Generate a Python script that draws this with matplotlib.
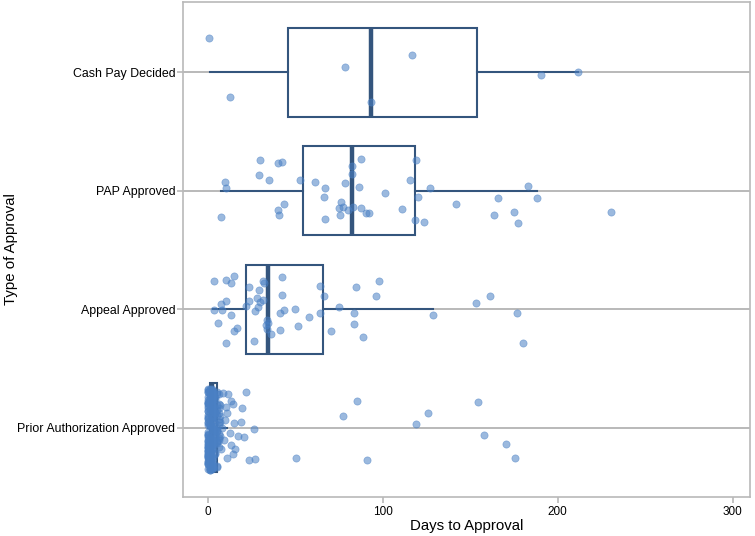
import matplotlib
matplotlib.use("Agg")
import matplotlib.pyplot as plt

# categories, top to bottom
categories = ["Cash Pay Decided", "PAP Approved", "Appeal Approved",
              "Prior Authorization Approved"]

# box summaries (days)
box_q1 = [45.6, 54.1, 21.6, 1.1]
box_med = [93.3, 82.4, 34.2, 2.0]
box_q3 = [153.6, 118.3, 65.7, 5.2]
box_lo = [1.0, 7.6, 3.0, 0.0]
box_hi = [211.8, 187.9, 128.6, 11.0]

# individual observations (days) and their vertical jitter
cash_days = [0.6, 12.6, 78.4, 93.3, 116.8, 190.6, 211.8]
cash_jit = [-0.288, 0.212, -0.042, 0.254, -0.144, 0.025, 0.0]

pap_days = [29.8, 40.2, 42.5, 29.0, 35.1, 9.6, 10.5, 7.6, 40.2, 40.8,
            43.7, 52.5, 61.2, 67.1, 66.6, 67.1, 76.0, 74.8, 77.1, 80.3,
            75.7, 78.6, 82.6, 82.4, 82.8, 87.6, 86.6, 87.6, 90.4, 91.8,
            101.1, 110.9, 115.5, 118.9, 120.2, 118.5, 123.5, 127.1, 141.6, 182.8,
            165.6, 187.9, 163.3, 175.2, 177.3, 230.3]
pap_jit = [-0.260, -0.237, -0.243, -0.133, -0.093, -0.074, -0.023, 0.223, 0.164, 0.201,
           0.113, -0.093, -0.074, -0.025, 0.057, 0.235, 0.093, 0.147, 0.138, 0.164,
           0.206, -0.068, -0.212, -0.138, 0.138, -0.271, -0.031, 0.147, 0.189, 0.189,
           0.017, 0.155, -0.091, -0.263, 0.057, 0.248, 0.263, -0.025, 0.108, -0.036,
           0.062, 0.065, 0.201, 0.178, 0.274, 0.180]

appeal_days = [3.4, 10.3, 13.2, 14.7, 23.3, 31.3, 32.2, 42.2, 29.2, 27.9,
               31.5, 29.8, 23.6, 21.9, 28.4, 10.3, 7.3, 3.6, 7.8, 13.3,
               5.9, 16.4, 14.9, 10.1, 26.2, 26.7, 33.8, 34.5, 33.0, 33.9,
               36.1, 41.0, 42.5, 41.4, 43.7, 50.0, 51.5, 57.8, 64.1, 66.6,
               64.1, 75.2, 70.4, 84.5, 83.7, 83.4, 88.9, 97.7, 96.2, 128.6,
               153.0, 161.0, 176.9, 179.9]
appeal_jit = [-0.237, -0.243, -0.218, -0.280, -0.189, -0.240, -0.218, -0.269, -0.158, -0.091,
              -0.076, -0.057, -0.068, -0.023, -0.019, -0.070, -0.042, 0.006, 0.008, 0.051,
              0.113, 0.155, 0.184, 0.288, 0.269, 0.014, 0.091, 0.119, 0.136, 0.164,
              0.206, 0.172, -0.116, 0.028, 0.006, -0.003, 0.138, 0.070, -0.197, -0.108,
              0.028, -0.017, 0.186, -0.189, 0.036, 0.127, 0.235, -0.235, -0.113, 0.048,
              -0.051, -0.110, 0.034, 0.286]

# prior authorization: dense column near zero, then the spread-out ones
prior_cluster_days = [0, 1, 0, 2, 1, 3, 0, 4, 2, 1,
                      0, 5, 1, 0, 3, 2, 0, 1, 6, 0,
                      2, 0, 1, 3, 0, 4, 1, 0, 2, 5,
                      0, 1, 2, 0, 3, 1, 0, 7, 2, 0,
                      1, 0, 4, 2, 0, 1, 3, 0, 2, 6,
                      0, 1, 0, 2, 5, 1, 0, 3, 0, 1,
                      2, 0, 4, 1, 0, 2, 0, 3, 1, 0,
                      5, 0, 1, 2, 0, 6, 1, 0, 3, 2,
                      0, 1, 4, 0, 2, 1, 0, 3, 0, 8,
                      1, 0, 2, 0, 5, 1, 3, 0, 2, 1,
                      0, 4, 1, 0, 2, 0, 7, 1, 0, 3,
                      2, 0, 1, 5, 0, 2, 1, 0, 4, 0,
                      3, 1, 6, 2, 0, 4, 1, 5, 3, 2,
                      1, 4, 0, 6, 2, 3, 5, 1, 7, 0,
                      4, 2, 3, 0, 5, 1, 6, 2, 4, 3,
                      2, 5, 1, 3, 6, 0, 4, 2, 5, 1,
                      6, 3, 0, 4, 1, 2, 7, 3, 5, 4,
                      1, 6, 3, 2, 4, 5, 0, 3, 6, 2]
prior_cluster_jit = [-0.32, -0.27, -0.21, -0.15, -0.30, -0.08, -0.02, 0.05, 0.12, 0.19,
                     0.26, 0.33, -0.25, -0.18, 0.00, 0.08, 0.15, 0.22, -0.12, 0.35,
                     -0.29, -0.05, 0.11, 0.29, -0.22, 0.02, 0.17, 0.31, -0.10, -0.28,
                     0.06, -0.16, 0.24, -0.33, 0.13, -0.03, 0.20, -0.19, 0.30, -0.07,
                     0.27, 0.10, -0.26, 0.04, -0.14, 0.34, -0.24, 0.16, -0.31, 0.09,
                     -0.20, 0.21, -0.09, 0.32, 0.01, -0.13, 0.25, -0.23, 0.14, -0.01,
                     0.18, -0.30, 0.07, 0.28, -0.17, -0.27, 0.23, -0.06, 0.36, -0.11,
                     0.03, -0.21, 0.15, -0.15, 0.19, -0.02, -0.32, 0.11, 0.26, -0.24,
                     -0.04, 0.30, -0.12, 0.12, 0.33, -0.28, 0.06, -0.18, 0.22, 0.00,
                     0.09, -0.26, -0.09, 0.17, -0.30, 0.27, 0.02, -0.08, -0.20, 0.35,
                     0.20, -0.16, 0.13, -0.23, 0.31, 0.05, -0.05, -0.29, 0.24, 0.10,
                     -0.33, 0.16, 0.34, -0.11, 0.08, -0.19, -0.03, 0.29, 0.21, -0.14,
                     -0.31, -0.23, -0.17, -0.06, 0.04, 0.14, 0.25, 0.32, -0.27, 0.18,
                     0.09, -0.12, 0.28, -0.20, 0.35, -0.01, 0.12, -0.25, 0.07, -0.30,
                     0.22, -0.09, 0.02, 0.30, -0.15, -0.33, 0.16, 0.26, -0.04, 0.33,
                     -0.18, 0.11, 0.20, -0.28, -0.07, 0.24, 0.01, -0.22, 0.13, 0.36,
                     0.05, -0.26, 0.31, -0.13, -0.02, 0.19, -0.10, 0.34, -0.19, 0.08,
                     0.27, -0.05, -0.29, 0.15, -0.24, 0.03, 0.21, -0.16, 0.10, -0.32]
prior_spread_days = [21.6, 14.5, 19.3, 10.9, 15.1, 19.1, 9.7, 26.2, 12.8, 17.3,
                     20.4, 13.0, 15.6, 14.1, 10.9, 23.5, 26.9, 11.4, 13.0, 10.3,
                     9.0, 7.6, 8.8, 6.5,
                     50.5, 77.1, 85.1, 91.2, 119.1, 125.8, 154.5, 157.8, 170.4, 175.6]
prior_spread_jit = [-0.297, -0.203, -0.169, -0.125, -0.040, -0.048, -0.062, 0.011, 0.042, 0.074,
                    0.076, 0.147, 0.178, 0.223, 0.257, 0.274, 0.263, -0.280, -0.226, -0.175,
                    0.108, 0.178, -0.294, -0.286,
                    0.257, -0.096, -0.226, 0.277, -0.028, -0.125, -0.220, 0.062, 0.142, 0.252]

x_ticks = [0, 100, 200, 300]

plt.rcParams['font.family'] = ['Liberation Sans', 'DejaVu Sans']

BOX_COLOR = '#34557d'
DOT_COLOR = '#4a80c4'
GRID_COLOR = '#b9b9b9'

fig = plt.figure(figsize=(7.55, 5.36), dpi=100)
ax = fig.add_axes([0.2424, 0.0728, 0.751, 0.9235])

# horizontal reference lines at each category
for i in range(len(categories)):
    ax.axhline(i, color=GRID_COLOR, linewidth=1.4, zorder=0)

stats = []
for i, name in enumerate(categories):
    stats.append({'label': name, 'q1': box_q1[i], 'med': box_med[i], 'q3': box_q3[i],
                  'whislo': box_lo[i], 'whishi': box_hi[i], 'fliers': []})

ax.bxp(stats, positions=range(len(categories)), widths=0.75,
       orientation='horizontal', patch_artist=True, showcaps=False,
       showfliers=False,
       boxprops=dict(facecolor='white', edgecolor=BOX_COLOR, linewidth=1.5),
       whiskerprops=dict(color=BOX_COLOR, linewidth=1.5),
       medianprops=dict(color=BOX_COLOR, linewidth=3.2),
       zorder=2)

groups = [
    (cash_days, cash_jit),
    (pap_days, pap_jit),
    (appeal_days, appeal_jit),
    (prior_cluster_days + prior_spread_days, prior_cluster_jit + prior_spread_jit),
]
for i, (days, jit) in enumerate(groups):
    ys = [i + j for j in jit]
    ax.scatter(days, ys, s=27, color=DOT_COLOR, alpha=0.55,
               edgecolors=DOT_COLOR, linewidths=0.5, zorder=3)

ax.set_xlim(-14.3, 310)
ax.set_ylim(3.585, -0.593)
ax.set_xticks(x_ticks)
ax.set_yticks(range(len(categories)))
ax.set_yticklabels(categories)

for s in ax.spines.values():
    s.set_color(GRID_COLOR)
    s.set_linewidth(1.2)

ax.tick_params(axis='both', colors=GRID_COLOR, labelcolor='black',
               length=4, width=1.2)
ax.tick_params(axis='y', pad=1.5, labelsize=8.9)
ax.tick_params(axis='x', pad=2.5, labelsize=8.5)

ax.set_xlabel('Days to Approval', fontsize=10.8, labelpad=1)
ax.set_ylabel('Type of Approval', fontsize=10.8)
ax.yaxis.set_label_coords(-0.291, 0.5)

fig.savefig('out.png', dpi=100)
